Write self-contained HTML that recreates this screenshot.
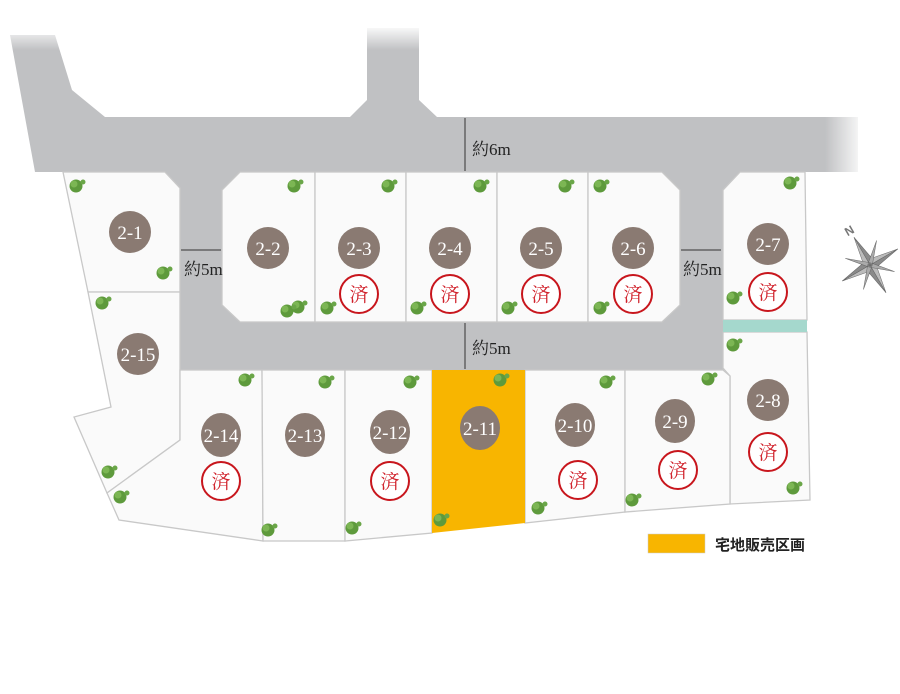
<!DOCTYPE html>
<html><head><meta charset="utf-8"><style>
html,body{margin:0;padding:0;background:#fff;width:900px;height:694px;overflow:hidden}
svg text{font-family:"Liberation Serif","Noto Serif CJK SC",serif}
</style></head><body>
<svg width="900" height="694" viewBox="0 0 900 694" xmlns="http://www.w3.org/2000/svg">
<defs>
<linearGradient id="fv" x1="0" y1="0" x2="0" y2="1"><stop offset="0" stop-color="#fff"/><stop offset="1" stop-color="#fff" stop-opacity="0"/></linearGradient>
<linearGradient id="fh" x1="0" y1="0" x2="1" y2="0"><stop offset="0" stop-color="#fff" stop-opacity="0"/><stop offset="1" stop-color="#fff"/></linearGradient>
<g id="tr"><circle cx="0" cy="0" r="6.5" fill="#5e9a3c"/><circle cx="-2" cy="-2" r="3.5" fill="#7cb654"/><circle cx="7" cy="-4" r="2.5" fill="#6aa648"/></g>
</defs>
<!-- roads -->
<g fill="#c0c1c3">
<polygon points="10,35 55,35 72,90 105,117 350,117 367,100 367,28 419,28 419,100 437,117 858,117 858,172 35,172"/>
<rect x="163" y="170" width="580" height="200"/>
</g>
<rect x="0" y="25" width="440" height="25" fill="url(#fv)"/>
<rect x="825" y="112" width="40" height="64" fill="url(#fh)"/>
<!-- lots -->
<g fill="#fafafa" stroke="#c8c8c8" stroke-width="1.3">
<polygon points="63,172 165,172 180,188 180,292 88,292"/>
<polygon points="88,292 180,292 180,440 107,493 74,417 111,407"/>
<polygon points="240,172 315,172 315,322 240,322 222,305 222,190"/>
<rect x="315" y="172" width="91" height="150"/>
<rect x="406" y="172" width="91" height="150"/>
<rect x="497" y="172" width="91" height="150"/>
<polygon points="588,172 662,172 680,190 680,305 662,322 588,322"/>
<polygon points="740,172 805,172 807,320 723,320 723,190"/>
<polygon points="723,332 807,332 810,500 730,504 730,376 723,368"/>
<polygon points="180,440 180,370 262,370 263,541 119,520 107,493"/>
<polygon points="262,370 345,370 345,541 263,541"/>
<polygon points="345,370 432,370 432,533 345,541"/>
<polygon points="525,370 625,370 625,512 525,523"/>
<polygon points="625,370 723,370 730,376 730,504 625,512"/>
</g>
<polygon points="432,370 525,370 525,523 432,533" fill="#f8b500"/>
<rect x="723" y="320" width="84" height="12" fill="#a5d8cd"/>
<!-- trees -->
<g>
<use href="#tr" x="76" y="186"/><use href="#tr" x="163" y="273"/><use href="#tr" x="102" y="303"/>
<use href="#tr" x="294" y="186"/><use href="#tr" x="298" y="307"/><use href="#tr" x="287" y="311"/>
<use href="#tr" x="388" y="186"/><use href="#tr" x="327" y="308"/><use href="#tr" x="480" y="186"/>
<use href="#tr" x="417" y="308"/><use href="#tr" x="565" y="186"/><use href="#tr" x="508" y="308"/>
<use href="#tr" x="600" y="186"/><use href="#tr" x="600" y="308"/><use href="#tr" x="790" y="183"/>
<use href="#tr" x="733" y="298"/><use href="#tr" x="733" y="345"/><use href="#tr" x="245" y="380"/>
<use href="#tr" x="325" y="382"/><use href="#tr" x="410" y="382"/><use href="#tr" x="500" y="380"/>
<use href="#tr" x="606" y="382"/><use href="#tr" x="708" y="379"/><use href="#tr" x="108" y="472"/>
<use href="#tr" x="120" y="497"/><use href="#tr" x="268" y="530"/><use href="#tr" x="352" y="528"/>
<use href="#tr" x="440" y="520"/><use href="#tr" x="538" y="508"/><use href="#tr" x="632" y="500"/>
<use href="#tr" x="793" y="488"/>
</g>
<!-- dims -->
<g stroke="#333" stroke-width="1" fill="none">
<line x1="465" y1="118" x2="465" y2="171"/><line x1="465" y1="323" x2="465" y2="369"/>
<line x1="181" y1="250" x2="221" y2="250"/><line x1="681" y1="250" x2="721" y2="250"/>
</g>
<g font-size="17" fill="#222">
<text x="472" y="155">約6m</text><text x="472" y="354">約5m</text>
<text x="184" y="275">約5m</text><text x="683" y="275">約5m</text>
</g>
<!-- numbers -->
<g fill="#8a7a72">
<circle cx="130" cy="232" r="21"/><circle cx="268" cy="248" r="21"/><circle cx="359" cy="248" r="21"/>
<circle cx="450" cy="248" r="21"/><circle cx="541" cy="248" r="21"/><circle cx="633" cy="248" r="21"/>
<circle cx="768" cy="244" r="21"/><circle cx="138" cy="354" r="21"/><circle cx="768" cy="400" r="21"/>
<ellipse cx="221" cy="435" rx="20" ry="22"/><ellipse cx="305" cy="435" rx="20" ry="22"/>
<ellipse cx="390" cy="432" rx="20" ry="22"/><ellipse cx="480" cy="428" rx="20" ry="22"/>
<ellipse cx="575" cy="425" rx="20" ry="22"/><ellipse cx="675" cy="421" rx="20" ry="22"/>
</g>
<g fill="#fff" font-size="19" text-anchor="middle">
<text x="130" y="239">2-1</text><text x="268" y="255">2-2</text><text x="359" y="255">2-3</text>
<text x="450" y="255">2-4</text><text x="541" y="255">2-5</text><text x="633" y="255">2-6</text>
<text x="768" y="251">2-7</text><text x="138" y="361">2-15</text><text x="768" y="407">2-8</text>
<text x="221" y="442">2-14</text><text x="305" y="442">2-13</text><text x="390" y="439">2-12</text>
<text x="480" y="435">2-11</text><text x="575" y="432">2-10</text><text x="675" y="428">2-9</text>
</g>
<g fill="#fff" stroke="#c8161d" stroke-width="2">
<circle cx="359" cy="294" r="19"/><circle cx="450" cy="294" r="19"/><circle cx="541" cy="294" r="19"/>
<circle cx="633" cy="294" r="19"/><circle cx="768" cy="292" r="19"/><circle cx="221" cy="481" r="19"/>
<circle cx="390" cy="481" r="19"/><circle cx="578" cy="480" r="19"/><circle cx="678" cy="470" r="19"/>
<circle cx="768" cy="452" r="19"/>
</g>
<g fill="#d0202a" font-size="19" text-anchor="middle" style="font-family:'Noto Sans CJK JP',sans-serif">
<text x="359" y="301">済</text><text x="450" y="301">済</text><text x="541" y="301">済</text>
<text x="633" y="301">済</text><text x="768" y="299">済</text><text x="221" y="488">済</text>
<text x="390" y="488">済</text><text x="578" y="487">済</text><text x="678" y="477">済</text>
<text x="768" y="459">済</text>
</g>
<!-- compass -->
<g transform="translate(870,265) rotate(-30)" fill="#8a8a8a" stroke="#666" stroke-width="0.5">
<polygon points="0,-32 5,-5 0,0"/><polygon points="0,-32 -5,-5 0,0" fill="#bbb"/>
<polygon points="0,32 5,5 0,0" fill="#bbb"/><polygon points="0,32 -5,5 0,0"/>
<polygon points="32,0 5,5 0,0"/><polygon points="32,0 5,-5 0,0" fill="#bbb"/>
<polygon points="-32,0 -5,5 0,0" fill="#bbb"/><polygon points="-32,0 -5,-5 0,0"/>
<polygon points="18,-18 3,0 0,-3" fill="#aaa"/><polygon points="-18,18 -3,0 0,3" fill="#aaa"/>
<polygon points="18,18 3,0 0,3" fill="#aaa"/><polygon points="-18,-18 -3,0 0,-3" fill="#aaa"/>
<text x="-5" y="-36" font-size="12" fill="#777" stroke="none" style="font-family:'Liberation Sans',sans-serif;font-weight:bold">N</text>
</g>
<!-- legend -->
<rect x="648" y="534" width="57" height="19" fill="#f8b500" stroke="#ccc" stroke-width="0.5"/>
<text x="715" y="550" font-size="15" font-weight="bold" fill="#222" style="font-family:'Noto Sans CJK JP',sans-serif">宅地販売区画</text>
</svg>
</body></html>
